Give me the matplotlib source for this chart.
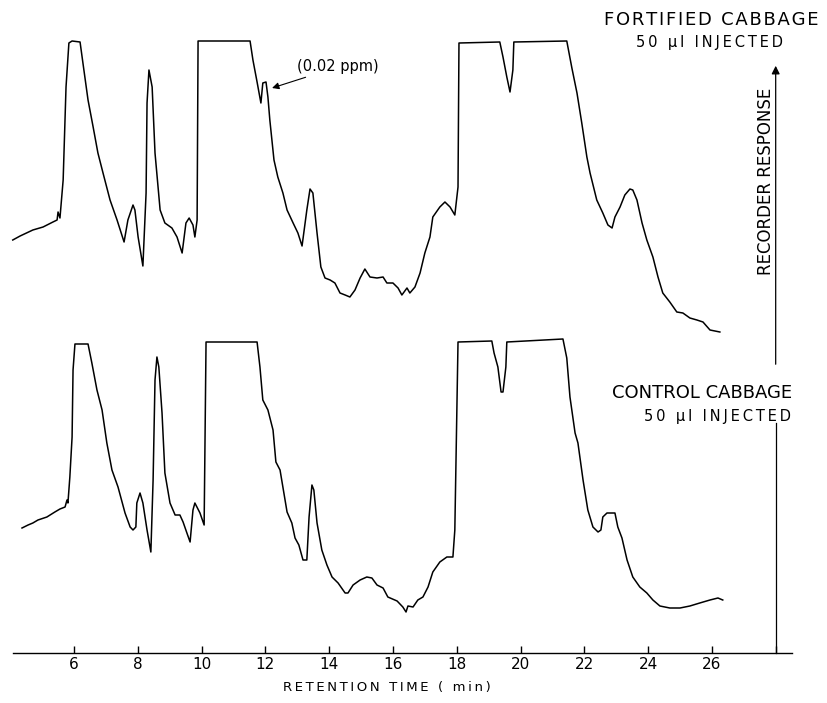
import numpy as np
import matplotlib
matplotlib.use('Agg')
from matplotlib import pyplot as plt

# fortified cabbage trace: retention time (min), recorder response
fort_t = [4.08, 4.31, 4.71, 5.03, 5.34, 5.47, 5.50, 5.56, 5.66, 5.75, 5.84, 5.94, 6.19, 6.28, 6.44,
          6.60, 6.75, 6.91, 7.13, 7.35, 7.57, 7.69, 7.85, 7.91, 8.01, 8.16, 8.26, 8.29, 8.35, 8.45,
          8.54, 8.70, 8.85, 9.07, 9.23, 9.39, 9.51, 9.61, 9.73, 9.79, 9.86, 9.89, 11.52, 11.61, 11.74,
          11.86, 11.92, 12.02, 12.08, 12.14, 12.27, 12.39, 12.55, 12.68, 12.87, 13.02, 13.15, 13.30, 13.40, 13.49,
          13.62, 13.74, 13.87, 14.03, 14.18, 14.34, 14.50, 14.65, 14.81, 14.97, 15.12, 15.28, 15.50, 15.69, 15.81,
          16.00, 16.16, 16.28, 16.44, 16.53, 16.69, 16.85, 17.00, 17.16, 17.25, 17.47, 17.63, 17.79, 17.94, 18.04,
          18.07, 19.35, 19.45, 19.57, 19.67, 19.76, 19.79, 21.45, 21.61, 21.77, 21.92, 22.08, 22.18, 22.39, 22.58,
          22.74, 22.87, 22.96, 23.12, 23.27, 23.43, 23.52, 23.65, 23.81, 23.96, 24.15, 24.31, 24.46, 24.68, 24.90,
          25.09, 25.31, 25.53, 25.72, 25.94, 26.25]
fort_r = [11.3, 11.7, 12.3, 12.6, 13.1, 13.3, 14.1, 13.5, 17.3, 26.6, 31.0, 31.2, 31.1, 29.0, 25.3,
          22.6, 20.0, 18.0, 15.3, 13.3, 11.1, 13.3, 14.8, 14.3, 11.6, 8.7, 16.0, 25.0, 28.3, 26.6,
          20.0, 14.3, 13.0, 12.5, 11.6, 10.0, 13.0, 13.5, 12.8, 11.6, 13.3, 31.2, 31.2, 29.3, 27.1,
          25.0, 27.0, 27.1, 25.6, 23.3, 19.3, 17.6, 16.0, 14.3, 13.0, 12.0, 10.7, 14.3, 16.4, 16.0,
          12.0, 8.6, 7.5, 7.3, 7.0, 6.0, 5.8, 5.6, 6.3, 7.5, 8.4, 7.6, 7.5, 7.6, 7.0,
          7.0, 6.5, 5.8, 6.5, 6.0, 6.6, 8.0, 10.0, 11.6, 13.6, 14.6, 15.1, 14.6, 13.8, 16.6,
          31.0, 31.1, 29.6, 27.6, 26.1, 28.3, 31.1, 31.2, 28.5, 26.0, 23.0, 19.6, 18.0, 15.3, 14.0,
          12.8, 12.5, 13.6, 14.6, 15.8, 16.4, 16.3, 15.3, 13.0, 11.3, 9.6, 7.6, 6.0, 5.1, 4.1,
          4.0, 3.5, 3.3, 3.1, 2.3, 2.1]

# control cabbage trace
ctrl_t = [4.37, 4.56, 4.71, 4.87, 5.15, 5.40, 5.56, 5.72, 5.78, 5.81, 5.87, 5.94, 5.97, 6.03, 6.44,
          6.56, 6.72, 6.88, 7.03, 7.19, 7.38, 7.60, 7.76, 7.85, 7.94, 7.97, 8.07, 8.16, 8.29, 8.41,
          8.48, 8.54, 8.60, 8.66, 8.76, 8.85, 9.01, 9.17, 9.32, 9.42, 9.54, 9.64, 9.73, 9.79, 9.95,
          10.08, 10.14, 11.74, 11.83, 11.92, 12.08, 12.24, 12.33, 12.46, 12.68, 12.83, 12.93, 13.05, 13.18, 13.30,
          13.37, 13.46, 13.52, 13.62, 13.77, 13.93, 14.09, 14.28, 14.50, 14.59, 14.75, 14.97, 15.18, 15.34, 15.50,
          15.69, 15.84, 16.13, 16.31, 16.41, 16.47, 16.63, 16.78, 16.94, 17.10, 17.25, 17.47, 17.69, 17.88, 17.94,
          18.04, 19.10, 19.17, 19.29, 19.39, 19.45, 19.54, 19.57, 21.33, 21.45, 21.55, 21.71, 21.80, 21.96, 22.11,
          22.27, 22.43, 22.52, 22.58, 22.71, 22.87, 22.96, 23.05, 23.18, 23.34, 23.52, 23.74, 23.96, 24.15, 24.37,
          24.68, 25.00, 25.31, 25.62, 25.94, 26.19, 26.34]
ctrl_r = [12.5, 12.8, 13.0, 13.3, 13.6, 14.1, 14.4, 14.6, 15.3, 15.0, 17.6, 21.6, 28.3, 30.9, 30.9,
          29.0, 26.3, 24.3, 21.0, 18.3, 16.6, 14.0, 12.6, 12.3, 12.6, 15.0, 16.0, 15.0, 12.3, 10.1,
          17.3, 27.3, 29.6, 28.6, 24.0, 18.0, 15.0, 13.8, 13.8, 13.1, 12.0, 11.1, 14.3, 15.0, 14.0,
          12.8, 31.1, 31.1, 28.6, 25.3, 24.3, 22.3, 19.1, 18.3, 14.1, 13.0, 11.5, 10.8, 9.3, 9.3,
          13.6, 16.8, 16.3, 13.0, 10.3, 8.8, 7.6, 7.0, 6.0, 6.0, 6.8, 7.3, 7.6, 7.5, 6.8,
          6.5, 5.6, 5.2, 4.6, 4.1, 4.7, 4.6, 5.3, 5.6, 6.6, 8.1, 9.1, 9.6, 9.6, 12.3,
          31.1, 31.2, 30.0, 28.6, 26.1, 26.1, 28.6, 31.1, 31.4, 29.5, 25.6, 22.0, 21.0, 17.3, 14.3,
          12.6, 12.1, 12.3, 13.6, 14.0, 14.0, 14.0, 12.6, 11.5, 9.3, 7.6, 6.6, 6.0, 5.3, 4.7,
          4.5, 4.5, 4.7, 5.0, 5.3, 5.5, 5.3]

ticks = [6, 8, 10, 12, 14, 16, 18, 20, 22, 24, 26, 28]
tick_labels = ['6', '8', '10', '12', '14', '16', '18', '20', '22', '24', '26', '']

offset = 30.0   # fortified trace drawn above the control trace


def spaced(s, sep):
    # crude letter spacing, the original uses lettering-guide type
    return sep.join(s)


fig = plt.figure(figsize=(8.28, 7.03), dpi=100)
ax = fig.add_axes([0, 0, 1, 1])
ax.set_xlim(3.68, 29.64)
ax.set_ylim(-5.0, 65.3)

ax.plot(fort_t, np.array(fort_r) + offset, color='black', lw=1.1)
ax.plot(ctrl_t, ctrl_r, color='black', lw=1.1)

# axis
for s in ['top', 'right', 'left']:
    ax.spines[s].set_visible(False)
ax.spines['bottom'].set_position(('data', 0))
ax.spines['bottom'].set_bounds(4.1, 28.5)
ax.spines['bottom'].set_linewidth(1.0)
ax.set_yticks([])
ax.set_xticks(ticks)
ax.set_xticklabels(tick_labels, fontsize=11)
ax.tick_params(axis='x', direction='in', length=5, width=1.0, pad=3)

# recorder response arrow
ax.plot([28, 28], [0, 23.0], color='black', lw=0.9)
ax.annotate('', xy=(28, 59.0), xytext=(28, 28.6),
            arrowprops=dict(arrowstyle='-|>', color='black', lw=0.9, mutation_scale=12))
ax.text(27.7, 47.2, 'RECORDER RESPONSE', rotation=90, ha='center', va='center', fontsize=12)

ax.text(25.97, 63.3, spaced('FORTIFIED CABBAGE', '\u200a'), ha='center', va='center', fontsize=13)
ax.text(25.94, 61.0, spaced('50 µl INJECTED', '\u2009'), ha='center', va='center', fontsize=10.5)
ax.text(25.69, 26.0, 'CONTROL CABBAGE', ha='center', va='center', fontsize=13)
ax.text(26.19, 23.6, spaced('50 µl INJECTED', '\u2009'), ha='center', va='center', fontsize=10.5)

ax.annotate('(0.02 ppm)', xy=(12.21, 56.5), xytext=(12.99, 58.6), ha='left', va='center', fontsize=10.5,
            arrowprops=dict(arrowstyle='-|>', color='black', lw=0.8, mutation_scale=10, shrinkA=0, shrinkB=0))

ax.text(15.81, -3.5, spaced('RETENTION TIME ( min)', '\u2009'), ha='center', va='center', fontsize=9.5)

fig.savefig('out.png', dpi=100)
